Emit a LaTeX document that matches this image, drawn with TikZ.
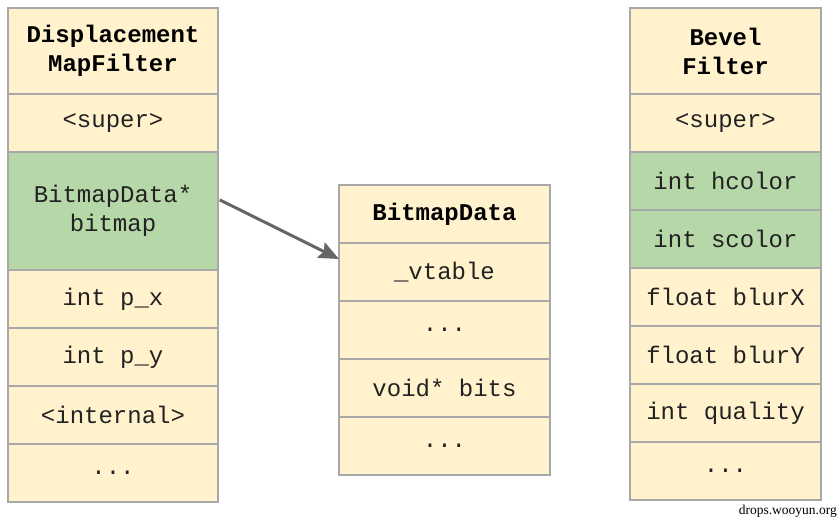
\documentclass[tikz,border=0pt]{standalone}
\usepackage{fontspec}
\setmainfont{Liberation Serif}
\setmonofont{Liberation Mono}
\usetikzlibrary{positioning, arrows.meta}
\definecolor{cream}{HTML}{FFF2CC}
\definecolor{leaf}{HTML}{B6D7A8}
\definecolor{rim}{HTML}{A8A8A8}
\definecolor{ink}{HTML}{666666}
\definecolor{txt}{HTML}{222222}

\begin{document}
\begin{tikzpicture}[x=1pt, y=1pt,
    cell/.style={draw=rim, line width=1.5pt, fill=cream, outer sep=0pt,
      inner sep=0pt, minimum height=58pt, minimum width=#1, text=txt,
      align=center, font=\ttfamily\fontsize{24}{29}\selectfont},
    cell/.default=210pt,
    head/.style={cell=#1, font=\ttfamily\bfseries\fontsize{24}{29}\selectfont, text=black},
    head/.default=210pt,
    tinted/.style={fill=leaf}
  ]
  \useasboundingbox (0,0) rectangle (838,-519);

  % DisplacementMapFilter
  \node[head, minimum height=86pt] (dmf) at (113,-51) {Displacement\\MapFilter};
  \node[cell, below=0pt of dmf] (dsup) {<super>};
  \node[cell, tinted, minimum height=118pt, below=0pt of dsup] (bmp) {BitmapData*\\bitmap};
  \node[cell, below=0pt of bmp] (px) {int p\_x};
  \node[cell, below=0pt of px] (py) {int p\_y};
  \node[cell, below=0pt of py] (intl) {<internal>};
  \node[cell, below=0pt of intl] (drest) {...};

  % BitmapData
  \node[head=211pt] (bd) at (444.5,-214) {BitmapData};
  \node[cell=211pt, below=0pt of bd] (vt) {\_vtable};
  \node[cell=211pt, below=0pt of vt] (bdots) {...};
  \node[cell=211pt, below=0pt of bdots] (bits) {void* bits};
  \node[cell=211pt, below=0pt of bits] (brest) {...};

  % BevelFilter
  \node[head=191pt, minimum height=86pt] (bf) at (725.5,-51) {Bevel\\Filter};
  \node[cell=191pt, below=0pt of bf] (bsup) {<super>};
  \node[cell=191pt, tinted, below=0pt of bsup] (hc) {int hcolor};
  \node[cell=191pt, tinted, below=0pt of hc] (sc) {int scolor};
  \node[cell=191pt, below=0pt of sc] (bx) {float blurX};
  \node[cell=191pt, below=0pt of bx] (by) {float blurY};
  \node[cell=191pt, below=0pt of by] (qual) {int quality};
  \node[cell=191pt, below=0pt of qual] (frest) {...};

  % pointer
  \draw[-{Stealth[length=20pt, width=17pt, inset=3pt]}, draw=ink, fill=ink, line width=3pt, shorten <=2pt]
    ([yshift=12pt]bmp.east) -- ([yshift=13pt]vt.west);

  \node[anchor=south east, inner sep=1pt, font=\fontsize{13.5}{14}\selectfont] (wm)
    at (838,-519) {drops.wooyun.org};
\end{tikzpicture}
\end{document}
